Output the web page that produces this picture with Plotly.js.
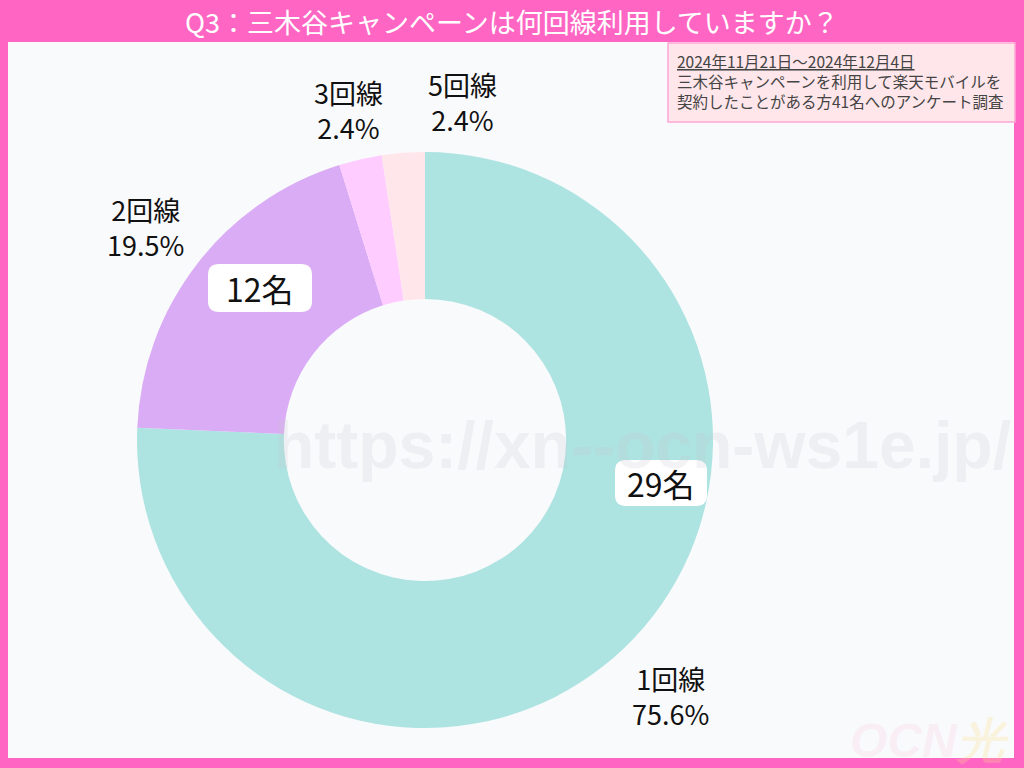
<!DOCTYPE html>
<html>
<head>
<meta charset="utf-8">
<script src="https://cdn.plot.ly/plotly-3.0.1.min.js"></script>
<style>html,body{margin:0;padding:0;background:#fff;}#chart{width:1024px;height:768px;}</style>
</head>
<body>
<div id="chart"></div>
<script>
const categories = ["1回線", "2回線", "3回線", "5回線"];
const percentValues = [75.6, 19.5, 2.4, 2.4];
const percentLabels = ["75.6%", "19.5%", "2.4%", "2.4%"];
const sliceColors = ["#ADE3E1", "#DAACF5", "#FFCCFF", "#FFE6EA"];
const insideLabels = ["29名", "12名"];
const titleText = "Q3：三木谷キャンペーンは何回線利用していますか？";
const noteLines = ["2024年11月21日〜2024年12月4日", "三木谷キャンペーンを利用して楽天モバイルを", "契約したことがある方41名へのアンケート調査"];

const W = 1024, H = 768;
const px = (x) => x / W;
const py = (y) => 1 - y / H;
const FONT = "Noto Sans CJK JP, Noto Sans, sans-serif";

const cx = 425, cy = 440, R = 288;

const trace = {
  type: "pie",
  values: percentValues,
  labels: categories,
  marker: { colors: sliceColors, line: { width: 0 } },
  hole: 0.49,
  sort: false,
  direction: "clockwise",
  rotation: 0,
  textinfo: "none",
  hoverinfo: "label+percent",
  showlegend: false,
  domain: { x: [px(cx - R), px(cx + R)], y: [py(cy + R), py(cy - R)] }
};

const labelPos = [[670, 696], [145, 227], [348, 110], [462, 102]];
const annotations = [];
categories.forEach((c, i) => {
  annotations.push({
    xref: "paper", yref: "paper", x: px(labelPos[i][0]), y: py(labelPos[i][1]),
    xanchor: "center", yanchor: "middle",
    text: c + "<br>" + percentLabels[i], showarrow: false,
    font: { family: FONT, size: 27, color: "#111" }, align: "center"
  });
});

// rounded white label boxes (pixel rectangles: [x0, y0, x1, y1])
function roundedPath(x0, y0, x1, y1, r) {
  const X = (v) => px(v), Y = (v) => py(v);
  return `M ${X(x0 + r)} ${Y(y0)} L ${X(x1 - r)} ${Y(y0)} Q ${X(x1)} ${Y(y0)} ${X(x1)} ${Y(y0 + r)} ` +
         `L ${X(x1)} ${Y(y1 - r)} Q ${X(x1)} ${Y(y1)} ${X(x1 - r)} ${Y(y1)} ` +
         `L ${X(x0 + r)} ${Y(y1)} Q ${X(x0)} ${Y(y1)} ${X(x0)} ${Y(y1 - r)} ` +
         `L ${X(x0)} ${Y(y0 + r)} Q ${X(x0)} ${Y(y0)} ${X(x0 + r)} ${Y(y0)} Z`;
}
const insideBoxes = [[615, 460, 707, 506], [208, 264, 312, 312]];
insideLabels.forEach((t, i) => {
  const b = insideBoxes[i];
  annotations.push({
    xref: "paper", yref: "paper", x: px((b[0] + b[2]) / 2), y: py((b[1] + b[3]) / 2),
    xanchor: "center", yanchor: "middle",
    text: t, showarrow: false,
    font: { family: FONT, size: 32, color: "#111" }
  });
});
// title
annotations.push({
  xref: "paper", yref: "paper", x: 0.5, y: py(21), xanchor: "center", yanchor: "middle",
  text: titleText, showarrow: false,
  font: { family: FONT, size: 27, color: "#FFFFFF" }
});
// note
annotations.push({
  xref: "paper", yref: "paper", x: px(675), y: py(48), xanchor: "left", yanchor: "top",
  text: '<span style="text-decoration:underline">' + noteLines[0] + '</span><br>' + noteLines[1] + '<br>' + noteLines[2],
  showarrow: false, align: "left",
  font: { family: FONT, size: 15.5, color: "#444" }
});
// watermark
annotations.push({
  xref: "paper", yref: "paper", x: px(642), y: py(445), xanchor: "center", yanchor: "middle",
  text: "<b>https://xn--ocn-ws1e.jp/</b>",
  showarrow: false, font: { family: "Liberation Sans, Arial, sans-serif", size: 66, color: "rgba(200,202,210,0.22)" }
});
annotations.push({
  xref: "paper", yref: "paper", x: px(1012), y: py(740), xanchor: "right", yanchor: "middle",
  text: '<b><i><span style="color:rgba(255,160,180,0.14)">OCN</span><span style="color:rgba(250,225,130,0.25)">光</span></i></b>',
  showarrow: false, font: { family: "Liberation Sans, Arial, sans-serif", size: 48 }
});

const shapes = [
  { type: "rect", xref: "paper", yref: "paper", x0: 0, x1: 1, y0: 0, y1: 1, fillcolor: "#FF66C4", line: { width: 0 }, layer: "below" },
  { type: "rect", xref: "paper", yref: "paper", x0: px(8), x1: px(1014), y0: py(758), y1: py(42), fillcolor: "#F9FAFC", line: { width: 0 }, layer: "below" },
  { type: "rect", xref: "paper", yref: "paper", x0: px(668), x1: px(1015), y0: py(122), y1: py(43), fillcolor: "#FFE6EA", line: { width: 1.5, color: "#FFA6D6" }, layer: "below" }
];
insideBoxes.forEach((b) => {
  shapes.push({ type: "path", xref: "paper", yref: "paper", path: roundedPath(b[0], b[1], b[2], b[3], 11),
    fillcolor: "#FFFFFF", line: { width: 0 }, layer: "above" });
});

const layout = {
  width: W, height: H,
  margin: { l: 0, r: 0, t: 0, b: 0 },
  paper_bgcolor: "#FFFFFF",
  font: { family: FONT },
  annotations: annotations,
  shapes: shapes,
  showlegend: false
};

Plotly.newPlot("chart", [trace], layout, { displayModeBar: false, staticPlot: true });
</script>
</body>
</html>
